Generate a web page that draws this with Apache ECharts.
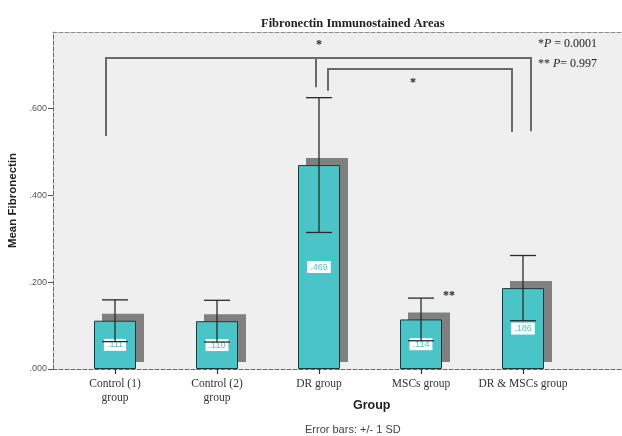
<!DOCTYPE html>
<html>
<head>
<meta charset="utf-8">
<script src="https://cdn.jsdelivr.net/npm/echarts@6/dist/echarts.min.js"></script>
<style>
  html, body { margin: 0; padding: 0; background: #fff; }
  #chart { width: 622px; height: 436px; }
</style>
</head>
<body>
<div id="chart"></div>
<script>
// Group names, means and standard deviations of fibronectin staining
const categories = ['Control (1)\ngroup', 'Control (2)\ngroup', 'DR group', 'MSCs group', 'DR & MSCs group'];
const means = [0.111, 0.110, 0.469, 0.114, 0.186];
const sds = [0.048, 0.048, 0.155, 0.049, 0.075];
const yTicks = [0, 0.2, 0.4, 0.6];

// Comparison brackets: category span, bar level and drop ends (axis values)
const brackets = [
  { from: 0, to: 4, level: 0.715, leftEnd: 0.536, rightEnd: 0.547, dx0: -9, dx1: 8, stem: { at: 2, dx: -3, end: 0.648 } },
  { from: 2, to: 4, level: 0.690, leftEnd: 0.640, rightEnd: 0.545, dx0: 9, dx1: -11 }
];
// Significance stars: [category index, value, pixel shift, text]
const stars = [
  [2, 0.745, 0, '*'],
  [3, 0.657, -8, '*'],
  [3, 0.168, 28, '**']
];

const Y_MAX = 0.775;
const TEAL = '#4bc4c7';
const chart = echarts.init(document.getElementById('chart'));

function fmt(v) { return v.toFixed(3).replace(/^0/, ''); }

const serifRich = {
  n: { fontFamily: 'Liberation Serif', fontSize: 12, fill: '#222' },
  i: { fontFamily: 'Liberation Serif', fontSize: 12, fontStyle: 'italic', fill: '#222' }
};

const option = {
  animation: false,
  title: {
    text: 'Fibronectin Immunostained Areas',
    left: 256, top: 12,
    textStyle: { fontFamily: 'Liberation Serif', fontWeight: 'bold', fontSize: 12.5, color: '#222' }
  },
  grid: [
    { left: 53, right: 0, top: 32, bottom: 67, show: true, backgroundColor: '#efefef', borderWidth: 0,
      containLabel: false, outerBoundsMode: 'none' },
    { left: 64, right: 48, top: 32, bottom: 67, containLabel: false, outerBoundsMode: 'none' }
  ],
  xAxis: [
    { gridIndex: 0, type: 'value', min: 0, max: 1, position: 'bottom',
      axisLine: { show: true, lineStyle: { color: '#666', type: 'dashed', width: 1 } },
      axisTick: { show: false }, axisLabel: { show: false }, splitLine: { show: false } },
    { gridIndex: 0, type: 'value', min: 0, max: 1, position: 'top',
      axisLine: { show: true, lineStyle: { color: '#888', type: 'dashed', width: 1 } },
      axisTick: { show: false }, axisLabel: { show: false }, splitLine: { show: false } },
    { gridIndex: 1, type: 'category', data: categories, position: 'bottom',
      axisLine: { show: false },
      axisTick: { show: true, alignWithLabel: true, length: 5, lineStyle: { color: '#333', width: 1.2 } },
      axisLabel: { interval: 0, margin: 8, fontFamily: 'Liberation Serif', fontSize: 11.5, color: '#333', lineHeight: 14 } }
  ],
  yAxis: [
    { gridIndex: 0, type: 'value', min: 0, max: Y_MAX, interval: 0.2,
      axisLine: { show: true, lineStyle: { color: '#666', type: 'dashed', width: 1 } },
      axisTick: { show: true, length: 5, customValues: yTicks, lineStyle: { color: '#555' } },
      axisLabel: { margin: 6, fontFamily: 'Liberation Sans', fontSize: 9, color: '#555',
        customValues: yTicks, formatter: v => fmt(v) },
      splitLine: { show: false },
      name: 'Mean Fibronectin', nameLocation: 'middle', nameGap: 29, nameRotate: 90,
      nameTextStyle: { fontFamily: 'Liberation Sans', fontWeight: 'bold', fontSize: 11.5, color: '#222' } },
    { gridIndex: 1, type: 'value', min: 0, max: Y_MAX, show: false }
  ],
  graphic: [
    { type: 'text', left: 538, top: 38, style: { rich: serifRich, text: '{n|*}{i|P}{n| = 0.0001}' } },
    { type: 'text', left: 538, top: 58, style: { rich: serifRich, text: '{n|** }{i|P}{n|= 0.997}' } },
    { type: 'text', left: 353, top: 399, style: {
        text: 'Group', fontFamily: 'Liberation Sans', fontWeight: 'bold', fontSize: 12.5, fill: '#222' } },
    { type: 'text', left: 305, top: 424, style: {
        text: 'Error bars: +/- 1 SD', fontFamily: 'Liberation Sans', fontSize: 11, fill: '#444' } }
  ],
  series: [
    // offset grey block behind each bar
    { type: 'custom', xAxisIndex: 2, yAxisIndex: 1, z: 1,
      data: means.map((m, i) => [i, m]),
      renderItem: (params, api) => {
        const top = api.coord([api.value(0), api.value(1)]);
        const base = api.coord([api.value(0), 0]);
        return { type: 'rect', shape: { x: top[0] - 21 + 8, y: top[1] - 7, width: 42, height: base[1] - top[1] },
          style: { fill: '#808080' } };
      } },
    { type: 'bar', xAxisIndex: 2, yAxisIndex: 1, z: 2, barWidth: 42,
      data: means,
      itemStyle: { color: TEAL, borderColor: '#1d3a3b', borderWidth: 1 },
      label: { show: true, position: 'inside', formatter: p => fmt(p.value),
        backgroundColor: '#fff', color: TEAL, fontFamily: 'Liberation Sans', fontSize: 9, padding: [2, 3, 1, 3] } },
    // +/- 1 SD error bars
    { type: 'custom', xAxisIndex: 2, yAxisIndex: 1, z: 5,
      data: means.map((m, i) => [i, m - sds[i], m + sds[i]]),
      renderItem: (params, api) => {
        const lo = api.coord([api.value(0), api.value(1)]);
        const hi = api.coord([api.value(0), api.value(2)]);
        const s = { stroke: '#2a2a2a', lineWidth: 1.3 };
        return { type: 'group', children: [
          { type: 'line', shape: { x1: hi[0], y1: hi[1], x2: lo[0], y2: lo[1] }, style: s },
          { type: 'line', shape: { x1: hi[0] - 13, y1: hi[1], x2: hi[0] + 13, y2: hi[1] }, style: s },
          { type: 'line', shape: { x1: lo[0] - 13, y1: lo[1], x2: lo[0] + 13, y2: lo[1] }, style: s }
        ] };
      } },
    // comparison brackets and significance stars
    { type: 'custom', xAxisIndex: 2, yAxisIndex: 1, z: 6,
      data: [[0, 0]],
      renderItem: (params, api) => {
        const s = { stroke: '#6a6a6a', lineWidth: 2 };
        const children = [];
        brackets.forEach(b => {
          const l = api.coord([b.from, b.level]);
          const r = api.coord([b.to, b.level]);
          const le = api.coord([b.from, b.leftEnd]);
          const re = api.coord([b.to, b.rightEnd]);
          const x0 = l[0] + b.dx0, x1 = r[0] + b.dx1;
          children.push({ type: 'polyline', shape: { points: [[x0, le[1]], [x0, l[1]], [x1, r[1]], [x1, re[1]]] }, style: Object.assign({ fill: null }, s) });
          if (b.stem) {
            const st = api.coord([b.stem.at, b.level]);
            const se = api.coord([b.stem.at, b.stem.end]);
            children.push({ type: 'line', shape: { x1: st[0] + b.stem.dx, y1: st[1], x2: st[0] + b.stem.dx, y2: se[1] }, style: s });
          }
        });
        stars.forEach(([idx, v, dx, t]) => {
          const p = api.coord([idx, v]);
          children.push({ type: 'text', x: p[0] + dx, y: p[1],
            style: { text: t, fontFamily: 'Liberation Serif', fontSize: 12, fontWeight: 'bold', fill: '#222', align: 'center', verticalAlign: 'middle' } });
        });
        return { type: 'group', children };
      } }
  ]
};

chart.setOption(option);
</script>
</body>
</html>
